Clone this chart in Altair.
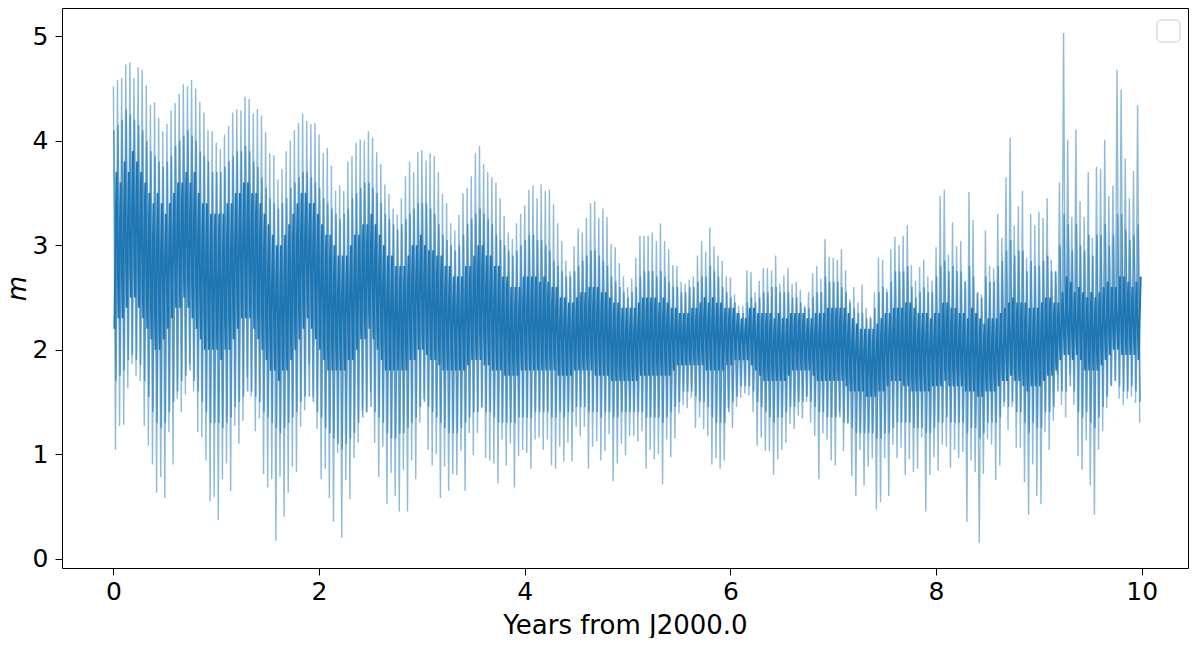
import altair as alt
import pandas as pd

# ---- values (25 spikes per year, one every 0.04 yr) ----
# outer spike tops (hi_*) and bottoms (lo_*)
hi_0 = [4.52,4.58,4.60,4.73,4.75,4.60,4.70,4.68,4.53,4.34,4.37,4.22,4.09,4.16,4.29,4.36,4.45,4.54,4.52,4.58,4.50,4.37,4.27,4.10,4.09]
lo_0 = [1.04,1.27,1.28,1.63,1.86,1.75,1.70,1.27,1.08,0.90,0.63,0.78,0.58,1.21,0.90,1.53,1.40,1.57,1.86,1.60,1.21,1.16,0.94,0.55,0.59]
hi_1 = [3.98,3.92,4.06,4.14,4.27,4.30,4.29,4.42,4.40,4.26,4.30,4.24,4.08,3.88,3.86,3.63,3.73,3.90,4.00,4.10,4.17,4.26,4.19,4.16,4.17]
lo_1 = [0.37,0.76,0.91,0.65,1.27,1.10,1.32,1.73,1.55,1.22,1.34,0.81,0.68,0.76,0.17,0.78,0.40,0.63,0.88,0.83,1.26,1.42,1.86,1.55,1.24]
hi_2 = [4.06,3.88,3.93,3.76,3.52,3.57,3.52,3.80,3.85,3.98,4.01,4.00,4.09,4.03,3.89,3.78,3.58,3.49,3.35,3.29,3.45,3.66,3.80,3.70,3.89]
lo_2 = [0.76,0.86,0.58,0.35,1.01,0.20,0.75,0.57,0.96,1.11,1.42,1.40,1.60,1.11,0.78,1.07,0.52,0.82,0.60,0.45,0.85,0.45,0.94,0.76,1.30]
hi_3 = [3.91,3.81,3.88,3.85,3.70,3.49,3.40,3.21,3.14,3.29,3.50,3.55,3.66,3.88,3.95,3.78,3.70,3.65,3.60,3.45,3.28,3.12,3.06,3.21,3.30]
lo_3 = [1.53,1.04,0.89,1.00,0.58,0.88,0.65,0.81,0.80,1.03,0.65,1.20,0.99,1.20,1.44,0.96,0.94,0.91,0.72,1.14,0.89,1.10,0.68,0.98,1.04]
hi_4 = [3.38,3.53,3.57,3.45,3.58,3.52,3.53,3.39,3.21,3.04,2.85,2.75,2.99,3.16,3.12,3.26,3.40,3.42,3.26,3.35,3.27,3.01,2.98,2.83,2.70]
lo_4 = [1.01,0.86,1.14,1.16,1.04,1.14,0.89,0.86,1.07,0.93,1.11,0.93,1.26,1.17,1.26,0.86,1.07,1.12,0.94,1.03,1.19,0.74,0.91,1.10,0.99]
hi_5 = [2.60,2.68,2.88,3.09,3.09,3.09,3.12,3.04,3.21,3.04,2.96,2.81,2.80,2.65,2.63,2.67,2.70,2.90,3.04,2.94,3.17,2.99,2.90,2.85,2.70]
lo_5 = [1.17,1.17,1.12,1.22,0.86,1.04,0.95,1.00,0.71,1.14,0.97,1.15,1.39,1.47,1.44,1.54,1.25,1.35,1.24,1.17,0.90,0.96,0.86,0.94,1.44]
hi_6 = [2.69,2.53,2.42,2.42,2.76,2.74,2.55,2.66,2.78,2.78,2.76,2.90,2.63,2.71,2.78,2.63,2.65,2.57,2.42,2.55,2.73,2.80,2.68,3.06,2.89]
lo_6 = [1.25,1.45,1.54,1.58,1.56,1.40,1.08,1.16,1.03,1.03,0.80,0.95,1.04,1.11,1.29,1.24,1.37,1.34,1.50,1.30,1.17,0.76,1.20,1.14,0.94]
hi_7 = [2.88,2.86,2.96,2.76,2.48,2.60,2.45,2.62,2.40,2.32,2.55,2.88,2.86,2.58,2.96,3.08,3.00,3.09,3.19,2.81,2.66,2.79,2.86,2.70,2.66]
lo_7 = [0.89,1.40,1.03,1.29,0.79,0.60,1.04,0.70,0.88,0.96,0.47,0.54,0.96,0.60,1.09,0.96,1.06,0.80,0.95,0.83,0.86,1.16,0.45,0.80,0.97]
hi_8 = [2.98,3.47,3.53,2.91,3.22,2.99,3.04,2.66,3.51,3.24,2.54,2.53,3.14,2.80,2.78,3.30,3.07,3.65,4.03,3.19,3.37,3.52,2.88,3.30,3.19]
lo_8 = [0.84,1.09,1.07,0.87,1.04,0.96,1.02,0.35,0.94,0.83,0.15,0.81,1.14,1.09,0.75,0.89,1.45,1.23,1.45,1.06,1.06,0.73,0.42,0.90,0.60]
hi_9 = [3.32,3.26,3.45,2.86,2.75,3.60,5.03,4.01,3.27,4.11,3.42,3.27,3.70,3.07,3.75,3.73,4.01,3.47,3.57,4.68,4.49,3.83,3.45,3.71,4.34]
lo_9 = [0.52,1.21,1.04,1.32,1.76,1.47,1.35,1.76,1.47,0.98,0.85,1.13,0.70,0.42,1.04,1.22,1.44,1.66,1.70,1.53,1.47,1.53,1.55,1.49,1.30]

# medium-height spikes: tops (mh_*) and bottoms (ml_*)
mh_0 = [4.1,4.15,4.2,4.3,4.25,4.2,4.15,4.1,4.0,3.9,3.85,3.8,3.75,3.8,3.85,3.95,4.0,4.05,4.1,4.05,4.0,3.9,3.85,3.8,3.7]
ml_0 = [1.7,1.75,1.8,1.9,1.95,1.9,1.85,1.7,1.55,1.4,1.3,1.25,1.3,1.4,1.5,1.6,1.7,1.75,1.8,1.7,1.6,1.5,1.4,1.3,1.3]
mh_1 = [3.7,3.7,3.75,3.8,3.85,3.9,3.9,3.95,3.9,3.8,3.75,3.65,3.55,3.45,3.4,3.35,3.4,3.45,3.55,3.6,3.65,3.7,3.7,3.65,3.6]
ml_1 = [1.3,1.25,1.3,1.35,1.45,1.5,1.55,1.6,1.6,1.55,1.5,1.4,1.35,1.3,1.25,1.2,1.25,1.3,1.35,1.4,1.5,1.55,1.55,1.5,1.4]
mh_2 = [3.55,3.45,3.4,3.35,3.3,3.25,3.3,3.35,3.45,3.5,3.55,3.6,3.6,3.55,3.5,3.4,3.3,3.25,3.2,3.15,3.2,3.25,3.3,3.35,3.4]
ml_2 = [1.35,1.25,1.2,1.15,1.1,1.05,1.1,1.15,1.2,1.3,1.35,1.4,1.45,1.4,1.35,1.3,1.2,1.15,1.15,1.2,1.2,1.25,1.3,1.35,1.45]
mh_3 = [3.4,3.4,3.35,3.3,3.2,3.1,3.05,3.0,2.95,3.0,3.1,3.2,3.25,3.3,3.35,3.3,3.25,3.2,3.1,3.05,3.0,2.95,2.9,2.95,3.0]
ml_3 = [1.5,1.45,1.4,1.35,1.3,1.25,1.2,1.2,1.2,1.25,1.3,1.35,1.4,1.4,1.45,1.4,1.4,1.35,1.3,1.3,1.3,1.3,1.3,1.35,1.35]
mh_4 = [3.05,3.1,3.1,3.05,3.05,3.0,2.95,2.85,2.8,2.75,2.7,2.7,2.75,2.8,2.85,2.9,2.95,2.95,2.9,2.85,2.8,2.7,2.65,2.6,2.55]
ml_4 = [1.35,1.35,1.4,1.4,1.4,1.4,1.35,1.35,1.4,1.35,1.4,1.4,1.45,1.45,1.45,1.4,1.4,1.4,1.35,1.4,1.4,1.35,1.35,1.4,1.4]
mh_5 = [2.5,2.55,2.6,2.7,2.75,2.75,2.75,2.7,2.75,2.7,2.65,2.6,2.6,2.55,2.55,2.6,2.6,2.65,2.7,2.7,2.8,2.75,2.7,2.6,2.55]
ml_5 = [1.4,1.4,1.4,1.4,1.35,1.35,1.35,1.35,1.3,1.35,1.4,1.45,1.5,1.6,1.6,1.6,1.55,1.5,1.5,1.45,1.35,1.3,1.3,1.3,1.4]
mh_6 = [2.5,2.45,2.35,2.35,2.45,2.5,2.45,2.5,2.55,2.55,2.6,2.6,2.55,2.55,2.55,2.5,2.5,2.45,2.4,2.4,2.5,2.55,2.55,2.7,2.65]
ml_6 = [1.5,1.55,1.65,1.65,1.65,1.6,1.5,1.45,1.4,1.35,1.3,1.35,1.35,1.4,1.45,1.45,1.5,1.5,1.55,1.5,1.45,1.4,1.4,1.35,1.35]
mh_7 = [2.65,2.65,2.6,2.55,2.45,2.4,2.35,2.35,2.3,2.3,2.4,2.55,2.6,2.55,2.65,2.75,2.75,2.75,2.8,2.6,2.5,2.55,2.6,2.55,2.55]
ml_7 = [1.35,1.35,1.3,1.3,1.25,1.2,1.2,1.2,1.2,1.2,1.15,1.15,1.2,1.2,1.25,1.3,1.3,1.3,1.3,1.25,1.25,1.25,1.2,1.2,1.25]
mh_8 = [2.7,2.8,2.85,2.75,2.8,2.75,2.75,2.65,2.8,2.7,2.55,2.5,2.7,2.65,2.65,2.8,2.85,2.95,3.05,2.9,2.95,2.95,2.75,2.85,2.8]
ml_8 = [1.3,1.3,1.35,1.3,1.3,1.3,1.3,1.2,1.25,1.25,1.15,1.2,1.3,1.3,1.3,1.35,1.5,1.45,1.5,1.4,1.4,1.3,1.2,1.3,1.25]
mh_9 = [2.8,2.85,2.9,2.75,2.75,3.0,3.3,3.2,2.95,3.2,3.0,2.95,3.1,2.9,3.1,3.1,3.2,3.0,3.1,3.3,3.3,3.15,3.05,3.1,3.2]
ml_9 = [1.25,1.4,1.4,1.45,1.6,1.6,1.6,1.65,1.6,1.4,1.35,1.4,1.3,1.25,1.35,1.45,1.55,1.65,1.7,1.65,1.6,1.6,1.65,1.6,1.5]

# dense core of the trace: upper (ch_*) and lower (cl_*) edges of the short spikes
ch_0 = [3.7,3.6,3.8,3.7,3.9,3.8,3.7,3.6,3.5,3.4,3.5,3.4,3.3,3.4,3.5,3.6,3.6,3.7,3.6,3.7,3.5,3.4,3.4,3.3,3.3]
cl_0 = [2.2,2.3,2.3,2.4,2.5,2.5,2.4,2.3,2.2,2.1,2.0,2.0,2.1,2.2,2.3,2.4,2.4,2.5,2.4,2.3,2.2,2.1,2.0,2.0,2.0]
ch_1 = [3.3,3.3,3.4,3.4,3.5,3.5,3.6,3.6,3.5,3.5,3.4,3.3,3.2,3.1,3.0,3.0,3.1,3.2,3.3,3.4,3.5,3.5,3.4,3.4,3.3]
cl_1 = [2.0,1.9,2.0,2.0,2.1,2.2,2.3,2.3,2.3,2.2,2.1,2.0,1.9,1.8,1.8,1.7,1.8,1.8,1.9,2.0,2.1,2.2,2.3,2.2,2.1]
ch_2 = [3.2,3.1,3.1,3.0,2.9,2.9,2.9,3.0,3.1,3.1,3.2,3.2,3.3,3.2,3.1,3.0,2.9,2.9,2.8,2.8,2.8,2.9,3.0,3.0,3.1]
cl_2 = [2.0,1.9,1.8,1.8,1.8,1.8,1.8,1.9,1.9,2.0,2.1,2.1,2.2,2.1,2.0,1.9,1.8,1.8,1.8,1.8,1.8,1.8,1.9,1.9,2.0]
ch_3 = [3.0,2.95,2.95,2.9,2.9,2.8,2.8,2.7,2.7,2.7,2.8,2.8,2.9,3.0,3.0,2.9,2.9,2.8,2.8,2.7,2.7,2.6,2.6,2.6,2.7]
cl_3 = [2.0,1.95,1.9,1.9,1.85,1.8,1.8,1.8,1.8,1.8,1.8,1.85,1.9,1.9,1.9,1.85,1.85,1.8,1.8,1.8,1.75,1.75,1.75,1.75,1.8]
ch_4 = [2.7,2.7,2.7,2.65,2.7,2.65,2.6,2.6,2.5,2.5,2.45,2.45,2.5,2.55,2.55,2.6,2.6,2.6,2.55,2.55,2.5,2.45,2.45,2.4,2.4]
cl_4 = [1.8,1.8,1.8,1.8,1.8,1.8,1.8,1.8,1.75,1.75,1.75,1.75,1.8,1.8,1.8,1.8,1.8,1.75,1.75,1.75,1.75,1.7,1.7,1.7,1.7]
ch_5 = [2.4,2.4,2.45,2.5,2.5,2.5,2.5,2.45,2.5,2.45,2.4,2.4,2.35,2.35,2.35,2.4,2.4,2.45,2.5,2.45,2.5,2.45,2.45,2.4,2.4]
cl_5 = [1.7,1.7,1.7,1.75,1.75,1.75,1.75,1.75,1.75,1.75,1.75,1.8,1.85,1.85,1.85,1.85,1.85,1.85,1.85,1.8,1.8,1.8,1.8,1.8,1.85]
ch_6 = [2.4,2.35,2.3,2.3,2.4,2.4,2.35,2.35,2.35,2.35,2.3,2.35,2.3,2.3,2.35,2.35,2.35,2.35,2.3,2.3,2.35,2.35,2.35,2.4,2.4]
cl_6 = [1.85,1.9,1.9,1.9,1.9,1.85,1.8,1.75,1.7,1.7,1.7,1.7,1.7,1.7,1.75,1.8,1.8,1.8,1.8,1.8,1.75,1.7,1.7,1.7,1.7]
ch_7 = [2.4,2.4,2.4,2.35,2.3,2.25,2.2,2.2,2.2,2.2,2.25,2.3,2.35,2.35,2.4,2.4,2.4,2.45,2.45,2.4,2.35,2.35,2.35,2.3,2.35]
cl_7 = [1.7,1.7,1.7,1.65,1.6,1.6,1.6,1.6,1.55,1.55,1.55,1.6,1.6,1.65,1.7,1.7,1.7,1.65,1.65,1.6,1.6,1.6,1.6,1.6,1.65]
ch_8 = [2.35,2.45,2.45,2.4,2.4,2.35,2.35,2.3,2.4,2.35,2.3,2.25,2.3,2.3,2.3,2.35,2.4,2.45,2.5,2.45,2.45,2.45,2.4,2.4,2.4]
cl_8 = [1.65,1.65,1.7,1.65,1.65,1.65,1.65,1.6,1.6,1.6,1.55,1.55,1.6,1.6,1.6,1.65,1.7,1.7,1.75,1.7,1.7,1.65,1.6,1.65,1.65]
ch_9 = [2.45,2.5,2.5,2.45,2.45,2.55,2.7,2.65,2.55,2.6,2.55,2.5,2.55,2.5,2.55,2.6,2.65,2.6,2.6,2.7,2.7,2.65,2.6,2.65,2.7]
cl_9 = [1.65,1.7,1.75,1.75,1.8,1.9,1.95,1.95,1.9,1.95,1.9,1.8,1.8,1.8,1.8,1.85,1.9,1.95,2.0,2.0,1.95,1.95,1.95,1.95,1.9]

x_ticks = [0, 2, 4, 6, 8, 10]
y_ticks = [0, 1, 2, 3, 4, 5]

HI = [hi_0, hi_1, hi_2, hi_3, hi_4, hi_5, hi_6, hi_7, hi_8, hi_9]
LO = [lo_0, lo_1, lo_2, lo_3, lo_4, lo_5, lo_6, lo_7, lo_8, lo_9]
MH = [mh_0, mh_1, mh_2, mh_3, mh_4, mh_5, mh_6, mh_7, mh_8, mh_9]
ML = [ml_0, ml_1, ml_2, ml_3, ml_4, ml_5, ml_6, ml_7, ml_8, ml_9]
CH = [ch_0, ch_1, ch_2, ch_3, ch_4, ch_5, ch_6, ch_7, ch_8, ch_9]
CL = [cl_0, cl_1, cl_2, cl_3, cl_4, cl_5, cl_6, cl_7, cl_8, cl_9]

outer_rows, mid_rows, core_rows = [], [], []
for yr in range(10):
    for k in range(25):
        t = yr + 0.04 * k
        outer_rows.append({"t": round(t, 4), "m": HI[yr][k]})
        outer_rows.append({"t": round(t + 0.02, 4), "m": LO[yr][k]})
        mid_rows.append({"t": round(t + 0.005, 4), "m": MH[yr][k]})
        mid_rows.append({"t": round(t + 0.025, 4), "m": ML[yr][k]})
        core_rows.append({"t": round(t + 0.01, 4), "m": CL[yr][k]})
        core_rows.append({"t": round(t + 0.03, 4), "m": CH[yr][k]})
outer_df = pd.DataFrame(outer_rows)
mid_df = pd.DataFrame(mid_rows)
core_df = pd.DataFrame(core_rows)

FONT = "DejaVu Sans"
BLUE = "#1f77b4"

x_enc = alt.X(
    "t:Q",
    scale=alt.Scale(domain=[-0.5, 10.45], nice=False, zero=False),
    axis=alt.Axis(values=x_ticks, format="d", title="Years from J2000.0",
                  grid=False, domain=False, tickSize=7, tickColor="black",
                  labelPadding=4, titlePadding=8),
)
y_enc = alt.Y(
    "m:Q",
    scale=alt.Scale(domain=[-0.09, 5.27], nice=False, zero=False),
    axis=alt.Axis(values=y_ticks, format="d", title="m", titleFontStyle="italic",
                  grid=False, domain=False, tickSize=7, tickColor="black",
                  labelPadding=7, titlePadding=2),
)

outer = alt.Chart(outer_df).mark_line(color=BLUE, strokeWidth=1.4, opacity=0.5).encode(x=x_enc, y=y_enc)
mid = alt.Chart(mid_df).mark_line(color=BLUE, strokeWidth=1.6, opacity=0.6).encode(x=x_enc, y=y_enc)
core = alt.Chart(core_df).mark_line(color=BLUE, strokeWidth=2.0, opacity=1.0).encode(x=x_enc, y=y_enc)

legend_box = alt.Chart(pd.DataFrame({"k": [0]})).mark_rect(
    fill="white", stroke="#cccccc", strokeWidth=1, cornerRadius=4
).encode(x=alt.value(1095), x2=alt.value(1118), y=alt.value(12), y2=alt.value(34))

chart = (
    alt.layer(core, mid, outer, legend_box)
    .properties(width=1126, height=560,
                autosize=alt.AutoSizeParams(type="none"),
                padding={"left": 54, "top": 0, "right": 4, "bottom": 70})
    .configure_view(stroke="black", strokeWidth=1)
    .configure_axis(labelFont=FONT, titleFont=FONT, labelFontSize=25, titleFontSize=26,
                    labelColor="black", titleColor="black", titleFontWeight="normal")
)

chart.save("out.html", embed_options={"renderer": "svg", "actions": False})
